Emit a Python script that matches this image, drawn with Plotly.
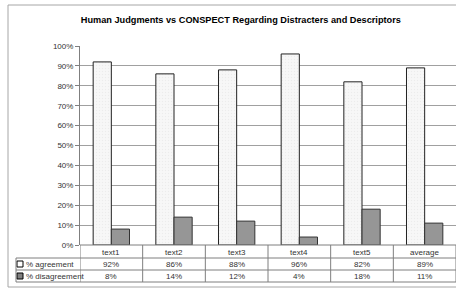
import plotly.graph_objects as go

categories = ["text1", "text2", "text3", "text4", "text5", "average"]
agreement = [92, 86, 88, 96, 82, 89]
disagreement = [8, 14, 12, 4, 18, 11]
agree_labels = ["92%", "86%", "88%", "96%", "82%", "89%"]
disagree_labels = ["8%", "14%", "12%", "4%", "18%", "11%"]
series_names = ["% agreement", "% disagreement"]
y_ticks = [0, 10, 20, 30, 40, 50, 60, 70, 80, 90, 100]

W, H = 456, 289
L, R, T, B = 16, 0, 46, 7
PW = W - L - R   # 440
PH = H - T - B   # 236
plot_left_px = 80
plot_bottom_px = 245

def px_x(px):
    return (px - L) / PW

def px_y(py):
    return (H - B - py) / PH

font = "Arial, Liberation Sans, sans-serif"
grid_col = "#7f7f7f"
txt_col = "#333333"

fig = go.Figure()
fig.add_trace(go.Bar(
    x=categories, y=agreement, name=series_names[0],
    marker=dict(color="#f7f7f7", line=dict(color="#222222", width=1),
                pattern=dict(shape=".", fgcolor="#e2e2e2", bgcolor="#f7f7f7", size=3, solidity=0.2)),
    showlegend=False, hoverinfo="skip",
))
fig.add_trace(go.Bar(
    x=categories, y=disagreement, name=series_names[1],
    marker=dict(color="#969696", line=dict(color="#333333", width=1)),
    showlegend=False, hoverinfo="skip",
))

shapes = [
    # outer chart border
    dict(type="rect", xref="paper", yref="paper",
         x0=px_x(8), x1=px_x(470), y0=px_y(287), y1=px_y(5),
         line=dict(color="#a6a6a6", width=1), fillcolor="rgba(0,0,0,0)", layer="below"),
    # legend keys
    dict(type="rect", xref="paper", yref="paper",
         x0=px_x(17), x1=px_x(23), y0=px_y(267), y1=px_y(261),
         line=dict(color="#000000", width=1), fillcolor="#ffffff"),
    dict(type="rect", xref="paper", yref="paper",
         x0=px_x(17), x1=px_x(23), y0=px_y(279), y1=px_y(273),
         line=dict(color="#000000", width=1), fillcolor="#808080"),
]

# data table: horizontal rules
for y_px, x_start in [(plot_bottom_px, plot_left_px), (258, 16), (270, 16), (282, 16)]:
    shapes.append(dict(type="line", xref="paper", yref="paper",
                       x0=px_x(x_start), x1=1.05, y0=px_y(y_px), y1=px_y(y_px),
                       line=dict(color=grid_col, width=1)))
# left edge of label column
shapes.append(dict(type="line", xref="paper", yref="paper",
                   x0=px_x(16), x1=px_x(16), y0=px_y(258), y1=px_y(282),
                   line=dict(color=grid_col, width=1)))
# column separators (category boundaries)
for i in range(len(categories) + 1):
    shapes.append(dict(type="line", xref="x", yref="paper",
                       x0=i - 0.5, x1=i - 0.5, y0=px_y(plot_bottom_px), y1=px_y(282),
                       line=dict(color=grid_col, width=1)))

annotations = []
row_centers = {"cat": 252, "agree": 264, "dis": 276}
for i, c in enumerate(categories):
    annotations.append(dict(x=c, xref="x", y=px_y(row_centers["cat"]), yref="paper",
                            text=c, showarrow=False, xanchor="center", yanchor="middle",
                            font=dict(family=font, size=8, color=txt_col)))
    annotations.append(dict(x=c, xref="x", y=px_y(row_centers["agree"]), yref="paper",
                            text=agree_labels[i], showarrow=False, xanchor="center", yanchor="middle",
                            font=dict(family=font, size=8, color=txt_col)))
    annotations.append(dict(x=c, xref="x", y=px_y(row_centers["dis"]), yref="paper",
                            text=disagree_labels[i], showarrow=False, xanchor="center", yanchor="middle",
                            font=dict(family=font, size=8, color=txt_col)))
for name, key in zip(series_names, ["agree", "dis"]):
    annotations.append(dict(x=px_x(24), xref="paper", y=px_y(row_centers[key]), yref="paper",
                            text=name, showarrow=False, xanchor="left", yanchor="middle",
                            font=dict(family=font, size=8, color=txt_col)))

fig.update_layout(
    width=W, height=H,
    margin=dict(l=L, r=R, t=T, b=B, pad=0),
    paper_bgcolor="white", plot_bgcolor="white",
    barmode="group", bargap=0.42, bargroupgap=0,
    title=dict(text="<b>Human Judgments vs CONSPECT Regarding Distracters and Descriptors</b>",
               x=(233) / W, xanchor="center", xref="paper",
               y=1 - 20 / H, yanchor="middle", yref="container",
               font=dict(family=font, size=9.2, color="#000000")),
    xaxis=dict(domain=[px_x(plot_left_px), 1], showticklabels=False, ticks="",
               showline=False, showgrid=False, range=[-0.5, 5.5], fixedrange=True),
    yaxis=dict(domain=[px_y(plot_bottom_px), 1], range=[0, 100],
               tickvals=y_ticks, ticktext=[f"{v}%" for v in y_ticks],
               ticks="outside", ticklen=4, tickcolor=grid_col,
               showline=True, linecolor=grid_col, linewidth=1,
               showgrid=True, gridcolor="#a0a0a0", gridwidth=1,
               tickfont=dict(family=font, size=8, color=txt_col),
               zeroline=False, fixedrange=True),
    shapes=shapes,
    annotations=annotations,
)

fig.write_html("out.html", config={"displayModeBar": False},
               post_script="document.body.style.margin='0px';")
